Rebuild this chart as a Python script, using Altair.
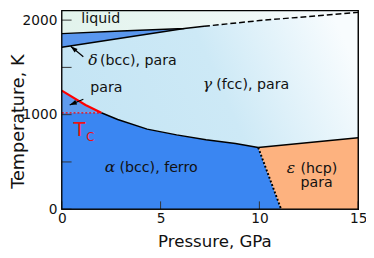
import altair as alt
import pandas as pd

P_MAX = 15
T_MAX = 2100
W, H = 303, 203
FONT = "DejaVu Sans"

# ---- phase boundaries (pressure GPa, temperature K) ----
liq_P = [0, 3.0, 6.2, 7.2, 10, 15]
liq_T = [1857, 1884, 1912, 1935, 1995, 2082]
LIQ_SOLID_END = 7.2
dg_P = [0, 6.2]                 # delta / gamma boundary
dg_T = [1714, 1912]
dg_top_T = [1857, 1912]         # liquid line above delta
red_P = [0, 1.2, 2.0]           # alpha(para) / gamma boundary (red)
red_T = [1255, 1102, 1020]
curie_P = [0, 2.0]
curie_T = [1020, 1020]
ag_P = [2.0, 2.83, 4.32, 5.81, 7.30, 8.79, 9.94]
ag_T = [1020, 949, 847, 786, 735, 694, 653]
ge_P = [9.94, 11.1, 15]         # gamma / epsilon
ge_T = [653, 676, 755]
ae_P = [9.94, 11.1]             # alpha / epsilon (dotted)
ae_T = [653, 0]
eps_low_T = [653, 0, 0]

y_ticks = [0, 500, 1000, 1500, 2000]
y_labels = [0, 1000, 2000]
x_ticks = [0, 5, 10, 15]

# ---- labels ----
txt_P = [0.99, 1.93, 7.82, 1.44, 2.92, 12.08, 12.08]
txt_T = [1969, 1520, 1276, 1235, 398, 388, 235]
txt_s = ["liquid", "(bcc), para", "(fcc), para", "para", "(bcc), ferro", "(hcp)", "para"]
greek_P = [1.34, 7.13, 2.18, 11.39]
greek_T = [1520, 1276, 398, 388]
greek_s = ["δ", "γ", "α", "ε"]
arrow_P = [1.09, 0.45, 1.09, 0.40]
arrow_T = [1612, 1724, 1163, 1102]
arrow_id = ["a", "a", "b", "b"]
head_angle = [310, 247]

xs = alt.Scale(domain=[0, P_MAX], nice=False, zero=False)
ys = alt.Scale(domain=[0, T_MAX], nice=False, zero=False)
X = alt.X("P:Q", scale=xs, title="Pressure, GPa",
          axis=alt.Axis(values=x_ticks, ticks=False, tickSize=0, domain=False, grid=False,
                        labelFlush=False, labelOverlap=False, labelPadding=3, format="d",
                        titleFontSize=17, titleX=156,
                        titleBaseline="alphabetic", titleY=38))
Y = alt.Y("T:Q", scale=ys, title="Temperature, K",
          axis=alt.Axis(values=y_labels, ticks=False, tickSize=0, domain=False, grid=False,
                        labelFlush=False, labelOverlap=False, labelPadding=5, format="d",
                        titleFontSize=18,
                        titleBaseline="alphabetic", titleX=-39, titleY=113))

def df(**kw):
    return pd.DataFrame(kw)

gamma_grad = alt.Gradient(gradient="linear",
                          stops=[alt.GradientStop(offset=0, color="#c3e4f4"),
                                 alt.GradientStop(offset=0.55, color="#cde9f6"),
                                 alt.GradientStop(offset=1, color="#f8fcfe")],
                          x1=0, y1=0.6, x2=1, y2=0.3)
liq_grad = alt.Gradient(gradient="linear",
                        stops=[alt.GradientStop(offset=0, color="#e2f3ec"),
                               alt.GradientStop(offset=1, color="#f6fafd")],
                        x1=0, y1=0.5, x2=1, y2=0.5)

bg = alt.Chart(df(P=[0], P2=[P_MAX], T=[0], T2=[T_MAX])).mark_rect(color=gamma_grad).encode(
    x=X, x2="P2", y=Y, y2="T2")

liquid = alt.Chart(df(P=liq_P, T=liq_T, T2=[T_MAX] * len(liq_P))).mark_area(
    color=liq_grad, orient="vertical", clip=True).encode(x=X, y=Y, y2="T2")

delta = alt.Chart(df(P=dg_P, T=dg_T, T2=dg_top_T)).mark_area(
    color="#5a97ee", orient="vertical", clip=True).encode(x=X, y=Y, y2="T2")

para = alt.Chart(df(P=red_P, T=red_T, T2=curie_T[:1] * len(red_P))).mark_area(
    color="#5f9bee", orient="vertical", clip=True).encode(x=X, y=Y, y2="T2")

ferro_P = [0] + ag_P + [ae_P[1]]
ferro_T = [curie_T[0]] + ag_T + [ae_T[1]]
ferro = alt.Chart(df(P=ferro_P, T=ferro_T, T2=[0] * len(ferro_P))).mark_area(
    color="#3a86f2", orient="vertical", clip=True).encode(x=X, y=Y, y2="T2")

eps = alt.Chart(df(P=ge_P, T=ge_T, T2=eps_low_T)).mark_area(
    color="#fdb27f", orient="vertical", clip=True).encode(x=X, y=Y, y2="T2")

def line(P, T, color="black", width=1.5, dash=None):
    kw = dict(color=color, strokeWidth=width, clip=True)
    if dash:
        kw["strokeDash"] = dash
    return alt.Chart(df(P=P, T=T)).mark_line(**kw).encode(x=X, y=Y)

solid_idx = [i for i, p in enumerate(liq_P) if p <= LIQ_SOLID_END]
dash_idx = [i for i, p in enumerate(liq_P) if p >= LIQ_SOLID_END]
lines = [
    line([liq_P[i] for i in solid_idx], [liq_T[i] for i in solid_idx]),
    line([liq_P[i] for i in dash_idx], [liq_T[i] for i in dash_idx], dash=[6, 3]),
    line(dg_P, dg_T),
    line(ag_P, ag_T),
    line(ge_P[::2], ge_T[::2]),
    line(ae_P, ae_T, width=2, dash=[2, 2]),
    line(curie_P, curie_T, color="#ff0000", width=1.3, dash=[2, 2]),
    line(red_P, red_T, color="#ff0000", width=2.2),
]

arrows = alt.Chart(df(P=arrow_P, T=arrow_T, id=arrow_id)).mark_line(
    color="black", strokeWidth=1.2).encode(x=X, y=Y, detail="id:N")
heads = alt.Chart(df(P=arrow_P[1::2], T=arrow_T[1::2], ang=head_angle)).mark_point(
    shape="M0,0L0.8,2.4L-0.8,2.4Z", filled=True, color="black", size=36, opacity=1).encode(
    x=X, y=Y, angle=alt.Angle("ang:Q", scale=None))

texts = alt.Chart(df(P=txt_P, T=txt_T, s=txt_s)).mark_text(
    align="left", baseline="alphabetic", font=FONT, fontSize=14.5, color="#111").encode(
    x=X, y=Y, text="s:N")
greeks = alt.Chart(df(P=greek_P, T=greek_T, s=greek_s)).mark_text(
    align="left", baseline="alphabetic", font="DejaVu Serif", fontStyle="italic",
    fontSize=16, color="#111").encode(x=X, y=Y, text="s:N")
tc = alt.Chart(df(P=[0.59], T=[776], s=["T"])).mark_text(
    align="left", baseline="alphabetic", font=FONT, fontSize=20, color="#ee1111").encode(
    x=X, y=Y, text="s:N")
tc_sub = alt.Chart(df(P=[1.24], T=[724], s=["C"])).mark_text(
    align="left", baseline="alphabetic", font=FONT, fontSize=12, color="#ee1111").encode(
    x=X, y=Y, text="s:N")

yt = alt.Chart(df(T=y_ticks)).mark_rule(color="#333", strokeWidth=1).encode(
    y=Y, x=alt.value(0), x2=alt.value(10))
xt = alt.Chart(df(P=x_ticks)).mark_rule(color="#333", strokeWidth=1).encode(
    x=X, y=alt.value(H), y2=alt.value(H - 8))

frame = alt.Chart(df(P=[0], P2=[P_MAX], T=[0], T2=[T_MAX])).mark_rect(
    filled=False, stroke="black", strokeWidth=1.3).encode(x=X, x2="P2", y=Y, y2="T2")

chart = alt.layer(bg, liquid, delta, ferro, para, eps, *lines, arrows, heads,
                  texts, greeks, tc, tc_sub, yt, xt, frame).properties(
    width=W, height=H,
    autosize=alt.AutoSizeParams(type="none"),
    padding={"left": 55, "top": 0, "right": 8, "bottom": 40},
).configure_view(stroke="black", strokeWidth=1.3).configure_axis(
    labelFont=FONT, titleFont=FONT, labelFontSize=14,
    titleFontWeight="normal", labelColor="#111", titleColor="#111")

chart.save("out.html", embed_options={"renderer": "svg", "actions": False})
